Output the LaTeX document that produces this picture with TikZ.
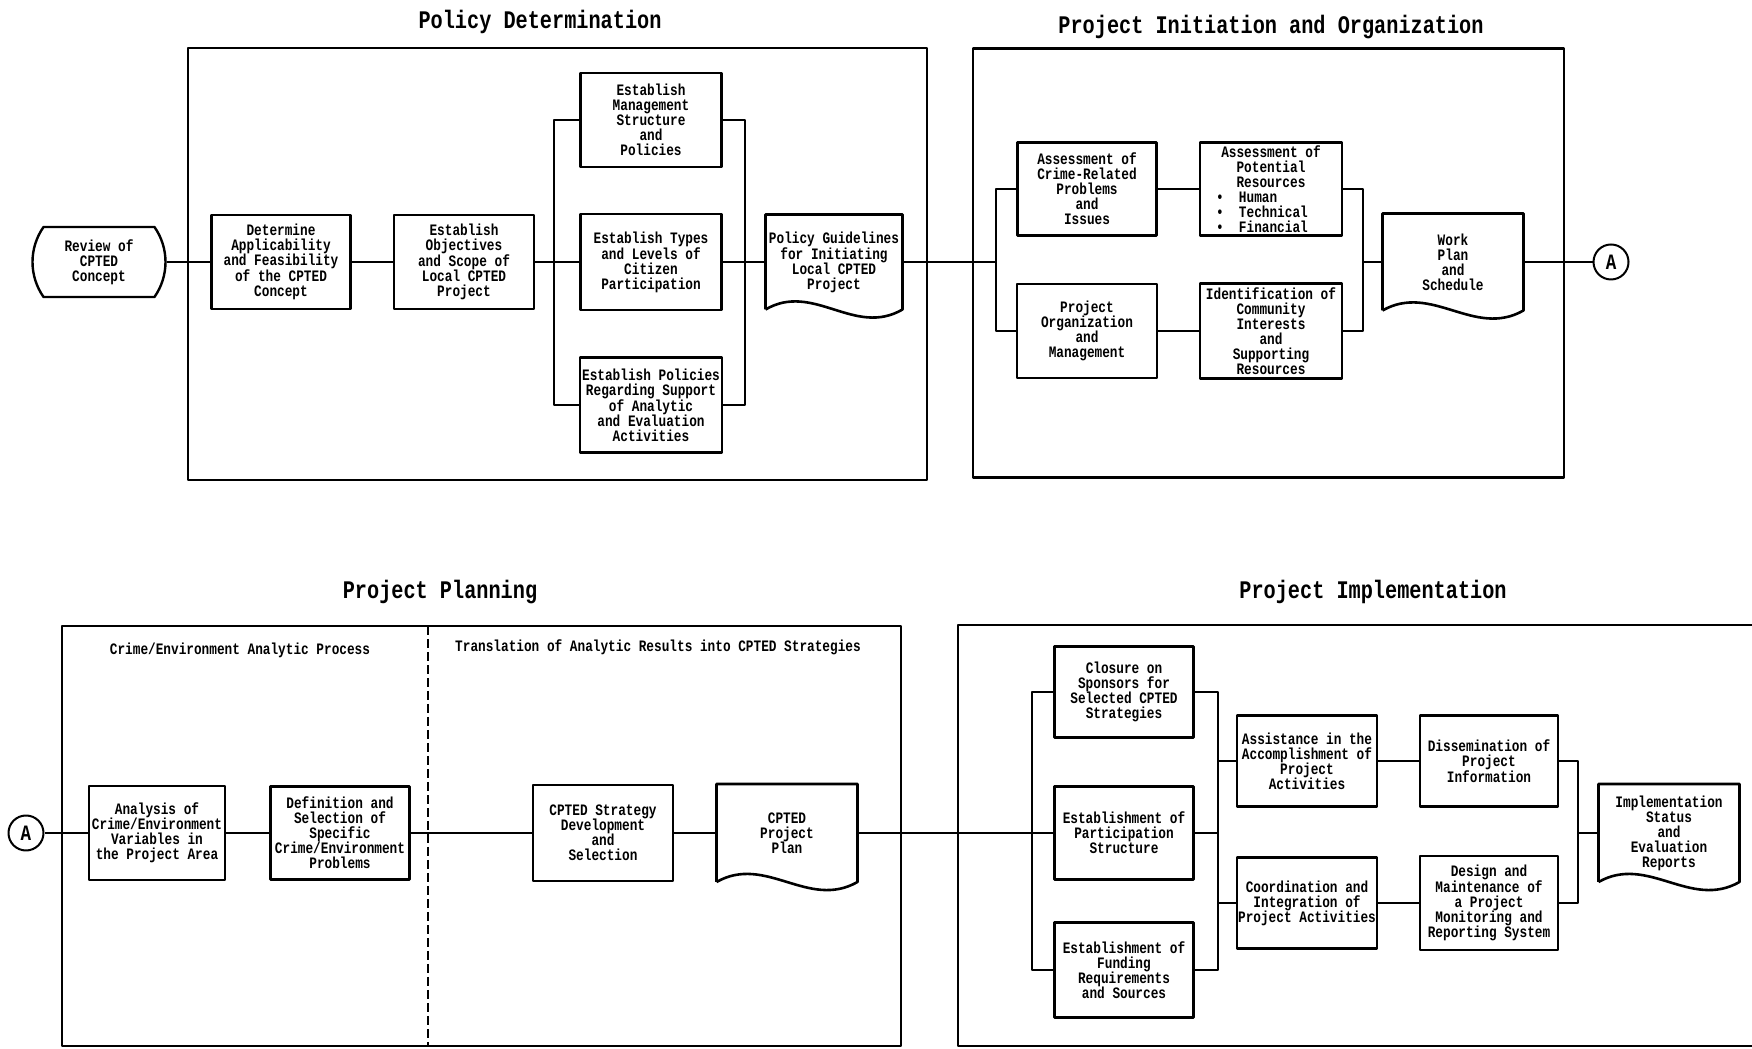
\documentclass[tikz,border=0pt]{standalone}
\usepackage{fontspec}
\setmainfont{Liberation Mono}[FakeStretch=0.8]
\usetikzlibrary{shapes.misc,calc}
\newcommand\boxfont{\bfseries\fontsize{16}{15}\selectfont}
\newcommand\titlefont{\bfseries\fontsize{25.4}{28}\selectfont}
\newcommand\connfont{\bfseries\fontsize{22}{24}\selectfont}
% document symbol: straight top and sides, wavy bottom
\newcommand\docoutline[1]{%
  \draw[docline] (#1.south west) -- (#1.north west) -- (#1.north east) -- (#1.south east)
    .. controls ($(#1.south west)!0.65!(#1.south east)+(0,-28bp)$) and ($(#1.south west)!0.35!(#1.south east)+(0,28bp)$) .. (#1.south west);}
\begin{document}
\begin{tikzpicture}[>=latex,line join=bevel,
  box/.style={draw,rectangle,line width=2.6bp,align=center,inner sep=1bp,
    minimum width=140bp,minimum height=94bp,font=\boxfont},
  doc/.style={rectangle,align=center,inner sep=1bp,
    minimum width=140bp,minimum height=96bp,font=\boxfont},
  docline/.style={line width=2.6bp},
  term/.style={draw,rounded rectangle,rounded rectangle arc length=70,
    line width=2.4bp,align=center,inner sep=1bp,font=\boxfont},
  frame/.style={draw,rectangle,line width=2.2bp},
  phase/.style={font=\titlefont},
  sub/.style={font=\boxfont},
  conn/.style={draw,circle,line width=2bp,minimum size=35bp,inner sep=0pt,font=\connfont},
  link/.style={line width=1.8bp},
  divider/.style={line width=2.8bp,dash pattern=on 9bp off 4bp},
]
  \pgfsetlinewidth{1bp}
  \useasboundingbox (0bp,0bp) rectangle (1752bp,1049bp);
%%
  % Phase: Policy Determination
  \node[frame,minimum width=739bp,minimum height=432bp] (pdframe) at (557.5bp,785bp) {};
  \node[phase] (pdtitle) at (540bp,1027bp) {Policy Determination};
  % Phase: Project Initiation and Organization
  \node[frame,minimum width=591bp,minimum height=429bp] (pioframe) at (1268.5bp,786bp) {};
  \node[phase] (piotitle) at (1271bp,1022bp) {Project Initiation and Organization};
  % Phase: Project Planning
  \node[frame,minimum width=839bp,minimum height=420bp] (ppframe) at (481.5bp,213bp) {};
  \node[phase] (pptitle) at (440bp,457bp) {Project Planning};
  \coordinate (divtop) at (428bp,423bp);
  \coordinate (divbot) at (428bp,3bp);
  \draw[divider] (divtop) -- (divbot);
  \node[sub] (ppsub1) at (240bp,399bp) {Crime/Environment Analytic Process};
  \node[sub] (ppsub2) at (658bp,402bp) {Translation of Analytic Results into CPTED Strategies};
  % Phase: Project Implementation
  \node[frame,minimum width=812bp,minimum height=421bp] (piframe) at (1364bp,213.5bp) {};
  \node[phase] (pititle) at (1373bp,457bp) {Project Implementation};
%%
  % Node: review
  \node[term,minimum width=135bp,minimum height=70bp] (review) at (99bp,787bp) {Review of\\CPTED\\Concept};
  % Node: det
  \node[box,minimum width=139bp] (det) at (281bp,787bp) {Determine\\Applicability\\and Feasibility\\of the CPTED\\Concept};
  % Node: obj
  \node[box] (obj) at (464bp,787bp) {Establish\\Objectives\\and Scope of\\Local CPTED\\Project};
  % Node: mgmt
  \node[box,minimum width=141bp] (mgmt) at (651bp,929bp) {Establish\\Management\\Structure\\and\\Policies};
  % Node: types
  \node[box,minimum width=141bp,minimum height=96bp] (types) at (651bp,787bp) {Establish Types\\and Levels of\\Citizen\\Participation};
  % Node: pol
  \node[box,minimum width=142bp,minimum height=95bp] (pol) at (651bp,644bp) {Establish Policies\\Regarding Support\\of Analytic\\and Evaluation\\Activities};
  % Node: guide
  \node[doc,minimum width=136bp,minimum height=94bp] (guide) at (834bp,787bp) {Policy Guidelines\\for Initiating\\Local CPTED\\Project};
  \docoutline{guide}
  % Node: crime
  \node[box,minimum width=139bp,minimum height=93bp] (crime) at (1087bp,860bp) {Assessment of\\Crime-Related\\Problems\\and\\Issues};
  % Node: pot
  \node[box,minimum width=142bp,minimum height=93bp] (pot) at (1271bp,860bp) {Assessment of\\Potential\\Resources\\
    \makebox[110bp][l]{•\ \ Human}\\\makebox[110bp][l]{•\ \ Technical}\\\makebox[110bp][l]{•\ \ Financial}};
  % Node: org
  \node[box] (org) at (1087bp,718bp) {Project\\Organization\\and\\Management};
  % Node: ident
  \node[box,minimum width=142bp,minimum height=95bp] (ident) at (1271bp,718bp) {Identification of\\Community\\Interests\\and\\Supporting\\Resources};
  % Node: wplan
  \node[doc] (wplan) at (1453bp,787bp) {Work\\Plan\\and\\Schedule};
  \docoutline{wplan}
  % Node: Atop
  \node[conn] (Atop) at (1611bp,787bp) {A};
%%
  % Node: Abot
  \node[conn] (Abot) at (26bp,216bp) {A};
  % Node: ana
  \node[box,minimum width=136bp] (ana) at (157bp,216bp) {Analysis of\\Crime/Environment\\Variables in\\the Project Area};
  % Node: def
  \node[box,minimum width=139bp,minimum height=93bp] (def) at (340bp,216bp) {Definition and\\Selection of\\Specific\\Crime/Environment\\Problems};
  % Node: strat
  \node[box,minimum height=96bp] (strat) at (603bp,216bp) {CPTED Strategy\\Development\\and\\Selection};
  % Node: cplan
  \node[doc,minimum height=97bp] (cplan) at (787bp,216bp) {CPTED\\Project\\Plan};
  \docoutline{cplan}
  % Node: clos
  \node[box,minimum width=139bp,minimum height=91bp] (clos) at (1124bp,357bp) {Closure on\\Sponsors for\\Selected CPTED\\Strategies};
  % Node: part
  \node[box,minimum width=139bp,minimum height=93bp] (part) at (1124bp,216bp) {Establishment of\\Participation\\Structure};
  % Node: fund
  \node[box,minimum width=139bp,minimum height=95bp] (fund) at (1124bp,79bp) {Establishment of\\Funding\\Requirements\\and Sources};
  % Node: assist
  \node[box,minimum height=91bp] (assist) at (1307bp,288bp) {Assistance in the\\Accomplishment of\\Project\\Activities};
  % Node: coord
  \node[box,minimum height=91bp] (coord) at (1307bp,146bp) {Coordination and\\Integration of\\Project Activities};
  % Node: diss
  \node[box,minimum width=138bp,minimum height=91bp] (diss) at (1489bp,288bp) {Dissemination of\\Project\\Information};
  % Node: design
  \node[box,minimum width=138bp] (design) at (1489bp,146bp) {Design and\\Maintenance of\\a Project\\Monitoring and\\Reporting System};
  % Node: impl
  \node[doc,minimum height=97bp] (impl) at (1669bp,216bp) {Implementation\\Status\\and\\Evaluation\\Reports};
  \docoutline{impl}
%%
  \coordinate (pdL) at (554bp,787bp);
  \coordinate (pdR) at (745bp,787bp);
  \coordinate (pioL) at (996bp,787bp);
  \coordinate (pioR) at (1363bp,787bp);
  \coordinate (piL) at (1032bp,216bp);
  \coordinate (piM) at (1218bp,216bp);
  \coordinate (piR) at (1578bp,216bp);
  % Edge: review -> det
  \draw[link] (review) -- (det);
  % Edge: det -> obj
  \draw[link] (det) -- (obj);
  % Edge: obj -> types
  \draw[link] (obj) -- (types);
  % Edge: pdL -> mgmt, pol
  \draw[link] (mgmt.west) -| (pdL) |- (pol.west);
  % Edge: mgmt, pol -> pdR
  \draw[link] (mgmt.east) -| (pdR) |- (pol.east);
  % Edge: types -> guide
  \draw[link] (types) -- (guide);
  % Edge: guide -> pioL
  \draw[link] (guide.east) -- (pioL);
  \draw[link] (crime.west) -| (pioL) |- (org.west);
  % Edge: crime -> pot
  \draw[link] (crime) -- (pot);
  % Edge: org -> ident
  \draw[link] (org) -- (ident);
  % Edge: pot, ident -> wplan
  \draw[link] (pot.east) -| (pioR) |- (ident.east);
  \draw[link] (pioR) -- (wplan.west);
  % Edge: wplan -> Atop
  \draw[link] (wplan) -- (Atop);
  % Edge: Abot -> ana
  \draw[link] (Abot) -- (ana);
  % Edge: ana -> def
  \draw[link] (ana) -- (def);
  % Edge: def -> strat
  \draw[link] (def) -- (strat);
  % Edge: strat -> cplan
  \draw[link] (strat) -- (cplan);
  % Edge: cplan -> piL
  \draw[link] (cplan.east) -- (piL);
  \draw[link] (clos.west) -| (piL) |- (fund.west);
  \draw[link] (piL) -- (part.west);
  % Edge: clos, part, fund -> piM
  \draw[link] (clos.east) -| (piM) |- (fund.east);
  \draw[link] (part.east) -- (piM);
  % Edge: piM -> assist, coord
  \draw[link] (assist.west) -- (assist.west -| piM);
  \draw[link] (coord.west) -- (coord.west -| piM);
  % Edge: assist -> diss
  \draw[link] (assist) -- (diss);
  % Edge: coord -> design
  \draw[link] (coord) -- (design);
  % Edge: diss, design -> impl
  \draw[link] (diss.east) -| (piR) |- (design.east);
  \draw[link] (piR) -- (impl.west);
%
\end{tikzpicture}
\end{document}
